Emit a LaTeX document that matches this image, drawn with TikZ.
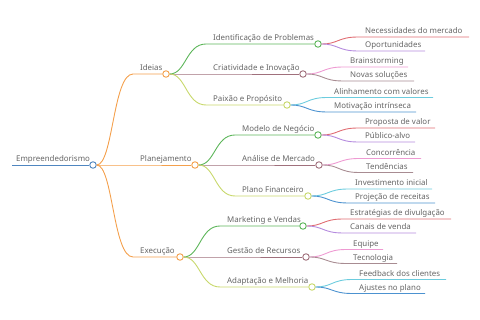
\documentclass[tikz,border=0pt]{standalone}
\usepackage{fontspec}
\setmainfont{Noto Sans}
\usepackage{tikz}
\usepackage{xcolor}
\definecolor{rootblue}{HTML}{4F86C0}
\definecolor{orangeA}{HTML}{F4A04C}
\definecolor{greenA}{HTML}{5DB65A}
\definecolor{mauveA}{HTML}{A0707C}
\definecolor{limeA}{HTML}{C8D86C}
\definecolor{redA}{HTML}{E06C72}
\definecolor{purpleA}{HTML}{B48ADE}
\definecolor{pinkA}{HTML}{EE9AD2}
\definecolor{greyA}{HTML}{A88C92}
\definecolor{cyanA}{HTML}{6CCCDE}
\definecolor{blueA}{HTML}{4C92D0}
\definecolor{txt}{HTML}{656565}
\tikzstyle{hub}  = [circle, draw, fill=white, line width=0.9pt, inner sep=0pt, minimum size=6.5pt]
\tikzstyle{lbl}  = [anchor=base west, inner sep=0pt, text=txt, font=\fontsize{7.9}{9}\selectfont]
\tikzstyle{link} = [line width=0.9pt]

\begin{document}
\begin{tikzpicture}[x=1pt, y=-1pt]
\useasboundingbox (0,0) rectangle (480,320);

% root and first level
\coordinate (rootS) at (12,165);
\node (root)  [hub, draw=rootblue] at (93,165) {};
\node (rootT) [lbl] at (16,162) {Empreendedorismo};
\draw [link, rootblue] (rootS) -- (root);

\coordinate (ideiasS) at (133,74);
\coordinate (planS)   at (133,165);
\coordinate (execS)   at (133,257);
\node (ideias) [hub, draw=orangeA] at (166,74)  {};
\node (plan)   [hub, draw=orangeA] at (195,165) {};
\node (exec)   [hub, draw=orangeA] at (180,257) {};
\node (ideiasT) [lbl] at (140,71)  {Ideias};
\node (planT)   [lbl] at (140,162) {Planejamento};
\node (execT)   [lbl] at (140,254) {Execução};
\draw [link, orangeA] (root) .. controls +(20,0) and +(-20,0) .. (ideiasS) -- (ideias);
\draw [link, orangeA] (root) -- (planS) -- (plan);
\draw [link, orangeA] (root) .. controls +(20,0) and +(-20,0) .. (execS) -- (exec);

% second level
\coordinate (identS) at (206,44);
\coordinate (criaS)  at (206,74);
\coordinate (paixS)  at (206,105);
\coordinate (modS)   at (235,135);
\coordinate (anaS)   at (235,165);
\coordinate (finS)   at (235,196);
\coordinate (markS)  at (220,226);
\coordinate (gestS)  at (220,257);
\coordinate (adapS)  at (220,287);
\node (ident) [hub, draw=greenA] at (318,44)  {};
\node (cria)  [hub, draw=mauveA] at (303,74)  {};
\node (paix)  [hub, draw=limeA]  at (287,105) {};
\node (mod)   [hub, draw=greenA] at (318,135) {};
\node (ana)   [hub, draw=mauveA] at (319,165) {};
\node (fin)   [hub, draw=limeA]  at (308,196) {};
\node (mark)  [hub, draw=greenA] at (303,226) {};
\node (gest)  [hub, draw=mauveA] at (306,257) {};
\node (adap)  [hub, draw=limeA]  at (312,287) {};
\node (identT) [lbl] at (213,41)  {Identificação de Problemas};
\node (criaT)  [lbl] at (213,71)  {Criatividade e Inovação};
\node (paixT)  [lbl] at (213,102) {Paixão e Propósito};
\node (modT)   [lbl] at (242,132) {Modelo de Negócio};
\node (anaT)   [lbl] at (242,162) {Análise de Mercado};
\node (finT)   [lbl] at (242,193) {Plano Financeiro};
\node (markT)  [lbl] at (227,223) {Marketing e Vendas};
\node (gestT)  [lbl] at (227,254) {Gestão de Recursos};
\node (adapT)  [lbl] at (227,284) {Adaptação e Melhoria};
\draw [link, greenA] (ideias) .. controls +(20,0) and +(-20,0) .. (identS) -- (ident);
\draw [link, mauveA] (ideias) -- (criaS) -- (cria);
\draw [link, limeA]  (ideias) .. controls +(20,0) and +(-20,0) .. (paixS) -- (paix);
\draw [link, greenA] (plan) .. controls +(20,0) and +(-20,0) .. (modS) -- (mod);
\draw [link, mauveA] (plan) -- (anaS) -- (ana);
\draw [link, limeA]  (plan) .. controls +(20,0) and +(-20,0) .. (finS) -- (fin);
\draw [link, greenA] (exec) .. controls +(20,0) and +(-20,0) .. (markS) -- (mark);
\draw [link, mauveA] (exec) -- (gestS) -- (gest);
\draw [link, limeA]  (exec) .. controls +(20,0) and +(-20,0) .. (adapS) -- (adap);

% leaves
\coordinate (necS) at (358,37);    \coordinate (necE) at (469,37);
\coordinate (opoS) at (358,51);    \coordinate (opoE) at (425,51);
\coordinate (braS) at (343,67);    \coordinate (braE) at (408,67);
\coordinate (novS) at (343,81);    \coordinate (novE) at (414,81);
\coordinate (aliS) at (327,97.5);  \coordinate (aliE) at (433,97.5);
\coordinate (motS) at (327,112);   \coordinate (motE) at (416,112);
\coordinate (proS) at (358,128);   \coordinate (proE) at (435,128);
\coordinate (pubS) at (358,142);   \coordinate (pubE) at (415,142);
\coordinate (conS) at (359,158.5); \coordinate (conE) at (421,158.5);
\coordinate (tenS) at (359,172.5); \coordinate (tenE) at (413,172.5);
\coordinate (invS) at (348,189);   \coordinate (invE) at (432,189);
\coordinate (prjS) at (348,203);   \coordinate (prjE) at (435,203);
\coordinate (estS) at (343,219);   \coordinate (estE) at (451,219);
\coordinate (canS) at (343,233);   \coordinate (canE) at (416,233);
\coordinate (equS) at (346,249.5); \coordinate (equE) at (383,249.5);
\coordinate (tecS) at (346,263.5); \coordinate (tecE) at (397,263.5);
\coordinate (feeS) at (352,279.5); \coordinate (feeE) at (446,279.5);
\coordinate (ajuS) at (352,293.5); \coordinate (ajuE) at (425,293.5);
\node (necT) [lbl] at (365,34)    {Necessidades do mercado};
\node (opoT) [lbl] at (365,48)    {Oportunidades};
\node (braT) [lbl] at (350,64)    {Brainstorming};
\node (novT) [lbl] at (350,78)    {Novas soluções};
\node (aliT) [lbl] at (334,94.5)  {Alinhamento com valores};
\node (motT) [lbl] at (334,109)   {Motivação intrínseca};
\node (proT) [lbl] at (365,125)   {Proposta de valor};
\node (pubT) [lbl] at (365,139)   {Público-alvo};
\node (conT) [lbl] at (366,155.5) {Concorrência};
\node (tenT) [lbl] at (366,169.5) {Tendências};
\node (invT) [lbl] at (355,186)   {Investimento inicial};
\node (prjT) [lbl] at (355,200)   {Projeção de receitas};
\node (estT) [lbl] at (350,216)   {Estratégias de divulgação};
\node (canT) [lbl] at (350,230)   {Canais de venda};
\node (equT) [lbl] at (353,246.5) {Equipe};
\node (tecT) [lbl] at (353,260.5) {Tecnologia};
\node (feeT) [lbl] at (359,276.5) {Feedback dos clientes};
\node (ajuT) [lbl] at (359,290.5) {Ajustes no plano};
\draw [link, redA]    (ident) .. controls +(20,0) and +(-20,0) .. (necS) -- (necE);
\draw [link, purpleA] (ident) .. controls +(20,0) and +(-20,0) .. (opoS) -- (opoE);
\draw [link, pinkA]   (cria)  .. controls +(20,0) and +(-20,0) .. (braS) -- (braE);
\draw [link, greyA]   (cria)  .. controls +(20,0) and +(-20,0) .. (novS) -- (novE);
\draw [link, cyanA]   (paix)  .. controls +(20,0) and +(-20,0) .. (aliS) -- (aliE);
\draw [link, blueA]   (paix)  .. controls +(20,0) and +(-20,0) .. (motS) -- (motE);
\draw [link, redA]    (mod)   .. controls +(20,0) and +(-20,0) .. (proS) -- (proE);
\draw [link, purpleA] (mod)   .. controls +(20,0) and +(-20,0) .. (pubS) -- (pubE);
\draw [link, pinkA]   (ana)   .. controls +(20,0) and +(-20,0) .. (conS) -- (conE);
\draw [link, greyA]   (ana)   .. controls +(20,0) and +(-20,0) .. (tenS) -- (tenE);
\draw [link, cyanA]   (fin)   .. controls +(20,0) and +(-20,0) .. (invS) -- (invE);
\draw [link, blueA]   (fin)   .. controls +(20,0) and +(-20,0) .. (prjS) -- (prjE);
\draw [link, redA]    (mark)  .. controls +(20,0) and +(-20,0) .. (estS) -- (estE);
\draw [link, purpleA] (mark)  .. controls +(20,0) and +(-20,0) .. (canS) -- (canE);
\draw [link, pinkA]   (gest)  .. controls +(20,0) and +(-20,0) .. (equS) -- (equE);
\draw [link, greyA]   (gest)  .. controls +(20,0) and +(-20,0) .. (tecS) -- (tecE);
\draw [link, cyanA]   (adap)  .. controls +(20,0) and +(-20,0) .. (feeS) -- (feeE);
\draw [link, blueA]   (adap)  .. controls +(20,0) and +(-20,0) .. (ajuS) -- (ajuE);

\end{tikzpicture}
\end{document}
